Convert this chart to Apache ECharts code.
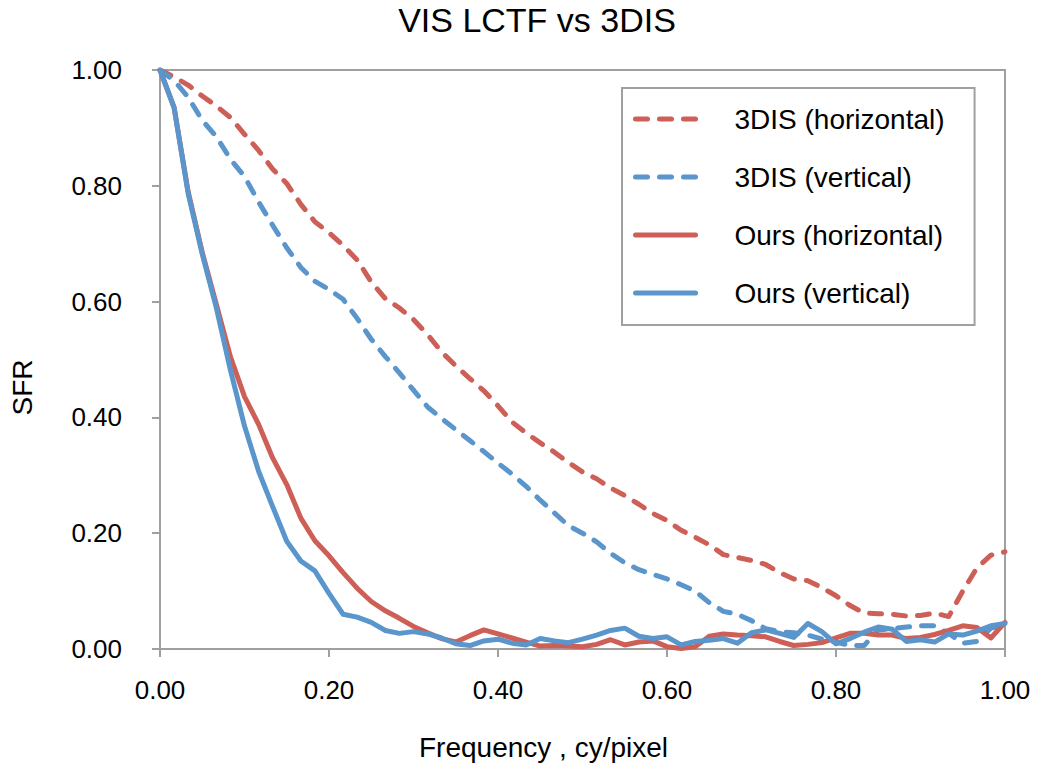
<!DOCTYPE html>
<html>
<head>
<meta charset="utf-8">
<title>VIS LCTF vs 3DIS</title>
<script src="https://cdn.jsdelivr.net/npm/echarts@6/dist/echarts.min.js"></script>
<style>
    html, body { margin: 0; padding: 0; background: #fff; }
    #chart { width: 1041px; height: 769px; }
</style>
</head>
<body>
<div id="chart"></div>
<script>
// spatial frequency, cy/pixel
const freq = [0, 0.0167, 0.0333, 0.05, 0.0667, 0.0833, 0.1, 0.1167, 0.1333, 0.15,
    0.1667, 0.1833, 0.2, 0.2167, 0.2333, 0.25, 0.2667, 0.2833, 0.3, 0.3167,
    0.3333, 0.35, 0.3667, 0.3833, 0.4, 0.4167, 0.4333, 0.45, 0.4667, 0.4833,
    0.5, 0.5167, 0.5333, 0.55, 0.5667, 0.5833, 0.6, 0.6167, 0.6333, 0.65,
    0.6667, 0.6833, 0.7, 0.7167, 0.7333, 0.75, 0.7667, 0.7833, 0.8, 0.8167,
    0.8333, 0.85, 0.8667, 0.8833, 0.9, 0.9167, 0.9333, 0.95, 0.9667, 0.9833, 1.0]

const dis3Horizontal = [1.0, 0.988, 0.974, 0.955, 0.938, 0.918, 0.889, 0.861, 0.829, 0.804,
    0.768, 0.738, 0.719, 0.697, 0.672, 0.634, 0.605, 0.589, 0.569, 0.543,
    0.513, 0.489, 0.467, 0.446, 0.420, 0.392, 0.373, 0.356, 0.340, 0.322,
    0.306, 0.294, 0.278, 0.265, 0.250, 0.234, 0.222, 0.205, 0.193, 0.180,
    0.163, 0.158, 0.153, 0.146, 0.132, 0.121, 0.118, 0.106, 0.092, 0.075,
    0.062, 0.061, 0.060, 0.057, 0.058, 0.062, 0.056, 0.100, 0.140, 0.162, 0.168]

const dis3Vertical = [1.0, 0.982, 0.953, 0.913, 0.885, 0.846, 0.816, 0.772, 0.732, 0.693,
    0.659, 0.635, 0.621, 0.604, 0.571, 0.535, 0.505, 0.477, 0.447, 0.418,
    0.398, 0.379, 0.360, 0.341, 0.321, 0.302, 0.281, 0.257, 0.235, 0.213,
    0.200, 0.185, 0.165, 0.149, 0.137, 0.129, 0.121, 0.111, 0.100, 0.080,
    0.065, 0.060, 0.049, 0.035, 0.030, 0.028, 0.024, 0.017, 0.012, 0.006,
    0.006, 0.033, 0.035, 0.038, 0.040, 0.040, 0.027, 0.010, 0.013, 0.036, 0.041]

const oursHorizontal = [1.0, 0.935, 0.790, 0.685, 0.595, 0.505, 0.436, 0.388, 0.330, 0.284,
    0.226, 0.187, 0.161, 0.132, 0.105, 0.082, 0.066, 0.053, 0.039, 0.028,
    0.018, 0.012, 0.023, 0.033, 0.026, 0.019, 0.012, 0.005, 0.006, 0.005,
    0.004, 0.008, 0.016, 0.007, 0.012, 0.014, 0.004, 0.001, 0.004, 0.022,
    0.026, 0.024, 0.023, 0.021, 0.013, 0.006, 0.008, 0.011, 0.019, 0.027,
    0.027, 0.024, 0.024, 0.018, 0.020, 0.025, 0.032, 0.040, 0.037, 0.019, 0.046]

const oursVertical = [1.0, 0.935, 0.787, 0.682, 0.589, 0.482, 0.385, 0.307, 0.246, 0.186,
    0.152, 0.135, 0.096, 0.060, 0.055, 0.046, 0.032, 0.027, 0.030, 0.026,
    0.019, 0.009, 0.006, 0.014, 0.017, 0.010, 0.007, 0.018, 0.014, 0.011,
    0.017, 0.024, 0.032, 0.036, 0.022, 0.018, 0.021, 0.007, 0.013, 0.015,
    0.018, 0.010, 0.028, 0.033, 0.027, 0.020, 0.044, 0.030, 0.009, 0.018,
    0.029, 0.038, 0.034, 0.013, 0.016, 0.012, 0.026, 0.024, 0.031, 0.040, 0.044]

const yTicks = [0, 0.2, 0.4, 0.6, 0.8, 1.0]

const RED = '#CD5F57'
const BLUE = '#5A95CC'
const FONT = 'Liberation Sans, Arial, sans-serif'

const pairs = vals => freq.map((f, i) => [f, vals[i]])

const mkSeries = (name, vals, color, dashed) => ({
    name: name,
    type: 'line',
    data: pairs(vals),
    showSymbol: false,
    symbol: 'none',
    color: color,
    lineStyle: {
        color: color,
        width: 5,
        type: dashed ? [12, 12] : 'solid',
        cap: 'round',
        join: 'round'
    },
    animation: false
})

const chart = echarts.init(document.getElementById('chart'), null, {renderer: 'svg'})

chart.setOption({
    backgroundColor: '#fff',
    title: {
        text: 'VIS LCTF vs 3DIS',
        left: 532,
        textAlign: 'center',
        top: 0,
        padding: [3, 5, 5, 5],
        textStyle: {fontFamily: FONT, fontSize: 34, fontWeight: 'normal', color: '#000'}
    },
    grid: {
        left: 160, top: 70, right: 36, bottom: 120,
        outerBoundsMode: 'none',
        containLabel: false,
        show: true,
        borderColor: '#A0A0A0',
        borderWidth: 2
    },
    legend: {
        orient: 'vertical',
        left: 622,
        top: 88,
        padding: [17, 30, 18, 11],
        itemWidth: 60,
        itemHeight: 14,
        itemGap: 30,
        borderColor: '#A0A0A0',
        borderWidth: 2,
        itemStyle: {opacity: 0},
        lineStyle: {width: 5},
        textStyle: {fontFamily: FONT, fontSize: 28, color: '#000', lineHeight: 28, padding: [0, 0, 0, 34]},
        data: ['3DIS (horizontal)', '3DIS (vertical)', 'Ours (horizontal)', 'Ours (vertical)']
    },
    xAxis: {
        type: 'value',
        min: 0,
        max: 1,
        interval: 0.2,
        name: 'Frequency , cy/pixel',
        nameLocation: 'middle',
        nameGap: 84,
        nameTextStyle: {fontFamily: FONT, fontSize: 28, color: '#000', padding: [0, 78, 0, 0]},
        axisLine: {lineStyle: {color: '#A0A0A0', width: 2}},
        axisTick: {show: true, length: 8, lineStyle: {color: '#A0A0A0', width: 2}},
        axisLabel: {
            fontFamily: FONT, fontSize: 26, color: '#000', margin: 28,
            formatter: v => v.toFixed(2)
        },
        splitLine: {show: false}
    },
    yAxis: {
        type: 'value',
        min: yTicks[0],
        max: yTicks[yTicks.length - 1],
        interval: 0.2,
        name: 'SFR',
        nameLocation: 'middle',
        nameGap: 124,
        nameTextStyle: {fontFamily: FONT, fontSize: 28, color: '#000', padding: [0, 56, 0, 0]},
        axisLine: {show: true, lineStyle: {color: '#A0A0A0', width: 2}},
        axisTick: {show: true, length: 8, lineStyle: {color: '#A0A0A0', width: 2}},
        axisLabel: {
            fontFamily: FONT, fontSize: 26, color: '#000', margin: 38,
            formatter: v => v.toFixed(2)
        },
        splitLine: {show: false}
    },
    series: [
        mkSeries('3DIS (horizontal)', dis3Horizontal, RED, true),
        mkSeries('3DIS (vertical)', dis3Vertical, BLUE, true),
        mkSeries('Ours (horizontal)', oursHorizontal, RED, false),
        mkSeries('Ours (vertical)', oursVertical, BLUE, false)
    ]
})
</script>
</body>
</html>
